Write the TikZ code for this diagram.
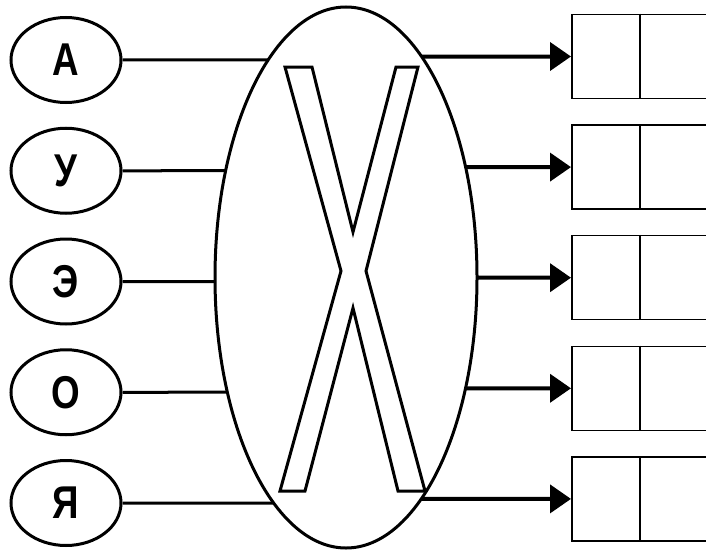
\documentclass[tikz,border=0pt]{standalone}
\usepackage{fontspec}
\newfontfamily\vowelfont{Liberation Sans}[FakeStretch=0.8]
\usetikzlibrary{shapes.geometric,arrows.meta,intersections}

\begin{document}
\begin{tikzpicture}[x=1pt,y=-1pt,
    vowel/.style={ellipse,draw,line width=3pt,minimum width=110pt,minimum height=85pt,
      inner sep=0pt,font=\vowelfont\fontsize{46}{46}\selectfont\bfseries},
    cell/.style={rectangle,draw,line width=1.5pt,minimum width=141pt,minimum height=84pt,
      inner sep=0pt,anchor=west},
    wire/.style={line width=3pt},
    feed/.style={line width=4pt,-{Triangle[length=21pt,width=28pt]}}]
  \useasboundingbox (0,0) rectangle (706,551);
  \node[ellipse,draw,line width=3pt,minimum width=262pt,minimum height=541pt,inner sep=0pt]
    (big) at (346,277.5) {};
  \path[name path=rim] (big.center) ellipse [x radius=131pt,y radius=270.5pt];
  \draw[line width=3pt,line join=miter]
    (285,67) -- (312,67) -- (353,232) -- (396,67) -- (418,67) -- (366,271)
    -- (425,491) -- (398,491) -- (353,308) -- (305,491) -- (280,491) -- (341,271) -- cycle;
  \foreach \t [count=\i] in {А,У,Э,О,Я}
  {
    \node[vowel] (v\i) at (66,{60+110.75*(\i-1)}) {\t};
    \node[cell]  (c\i) at (571,{56.5+110.6*(\i-1)}) {};
    \draw[line width=1.5pt] ([xshift=69pt]c\i.north west) -- ([xshift=69pt]c\i.south west);
    \path[name path=lft\i] (v\i.east) -- (v\i.east -| big.center);
    \path[name path=rgt\i] (c\i.west) -- (c\i.west -| big.center);
    \path[name intersections={of=rim and lft\i,by=in\i}];
    \path[name intersections={of=rim and rgt\i,by=out\i}];
    \draw[wire] (v\i.east) -- (in\i);
    \draw[feed] (out\i) -- (c\i.west);
  }
\end{tikzpicture}
\end{document}
